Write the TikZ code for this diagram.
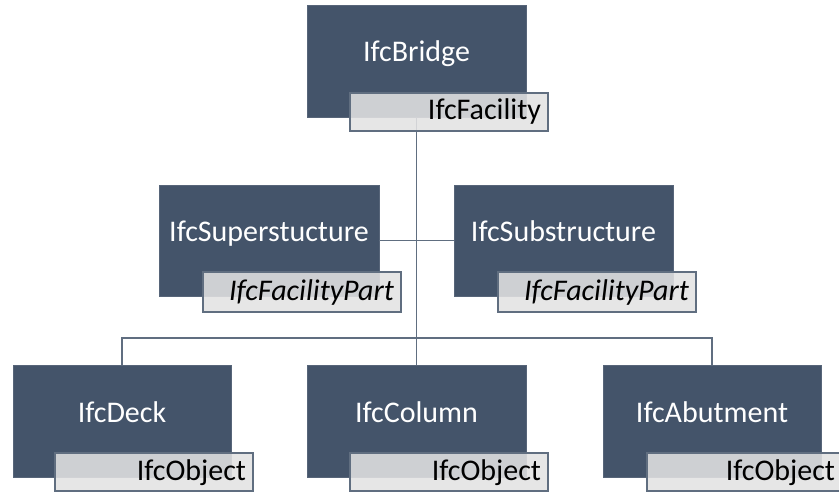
\documentclass[tikz,border=0pt]{standalone}
\usepackage{fontspec}
\setmainfont{Carlito}
\begin{document}
\begin{tikzpicture}[x=1pt,y=-1pt,
  every node/.style={inner sep=0pt,outer sep=0pt},
  entity/.style={fill=slate,draw=slate!90!white,line width=0.8pt,anchor=north west},
  tagbox/.style={fill=taggray,fill opacity=0.88,draw=slate!85!white,line width=1.2pt,
    anchor=north west,minimum width=198pt,minimum height=38pt},
  classname/.style={text=white,font=\fontsize{30}{30}\selectfont,anchor=base},
  tagtext/.style={text=black,font=\fontsize{30}{30}\selectfont,anchor=base east},
  linkline/.style={draw=slate!85!white,line width=1.5pt}]
\definecolor{slate}{HTML}{44546A}
\definecolor{taggray}{HTML}{E2E2E2}
\useasboundingbox (0,0) rectangle (839,492);

% class boxes
\node[entity,minimum width=219pt,minimum height=112pt] (bridge) at (307,5) {};
\node[entity,minimum width=220pt,minimum height=111pt] (sup) at (159,185) {};
\node[entity,minimum width=219pt,minimum height=111pt] (sub) at (454,185) {};
\node[entity,minimum width=218pt,minimum height=112pt] (deck) at (13,365) {};
\node[entity,minimum width=219pt,minimum height=112pt] (column) at (307,365) {};
\node[entity,minimum width=218pt,minimum height=112pt] (abut) at (603,365) {};

% connectors
\coordinate (bus) at (416.5,338);
\path[linkline] (bridge.south) -- (column.north);
\path[linkline] (sup.east) -- (sub.west);
\path[linkline] (deck.north) |- (bus) -| (abut.north);

% class names
\node[classname] (bridgeName) at ([yshift=-57pt]bridge.north) {IfcBridge};
\node[classname] (supName) at ([yshift=-57pt]sup.north) {IfcSuperstucture};
\node[classname] (subName) at ([yshift=-57pt]sub.north) {IfcSubstructure};
\node[classname] (deckName) at ([yshift=-57pt]deck.north) {IfcDeck};
\node[classname] (columnName) at ([yshift=-57pt]column.north) {IfcColumn};
\node[classname] (abutName) at ([yshift=-57pt]abut.north) {IfcAbutment};

% supertype tags
\node[tagbox] (bridgeTag) at (350,93) {};
\node[tagbox,minimum height=40pt] (supTag) at (203,272) {};
\node[tagbox,minimum height=40pt] (subTag) at (498,272) {};
\node[tagbox] (deckTag) at (55,453) {};
\node[tagbox] (columnTag) at (350,453) {};
\node[tagbox] (abutTag) at (647,453) {};

\node[tagtext] (bridgeType) at ([xshift=-7pt,yshift=-27pt]bridgeTag.north east) {IfcFacility};
\node[tagtext] (supType) at ([xshift=-7pt,yshift=-28pt]supTag.north east) {\itshape IfcFacilityPart};
\node[tagtext] (subType) at ([xshift=-7pt,yshift=-28pt]subTag.north east) {\itshape IfcFacilityPart};
\node[tagtext] (deckType) at ([xshift=-7pt,yshift=-27pt]deckTag.north east) {IfcObject};
\node[tagtext] (columnType) at ([xshift=-7pt,yshift=-27pt]columnTag.north east) {IfcObject};
\node[tagtext] (abutType) at ([xshift=-10pt,yshift=-27pt]abutTag.north east) {IfcObject};
\end{tikzpicture}
\end{document}
